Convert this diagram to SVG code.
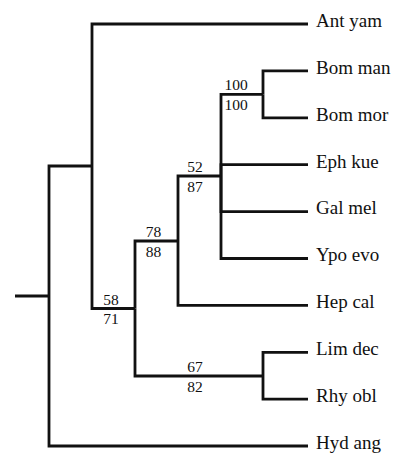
<svg xmlns="http://www.w3.org/2000/svg" width="393" height="454" viewBox="0 0 393 454">
<style>
.e{fill:none;stroke:#111;stroke-width:2.8;stroke-linejoin:miter;stroke-linecap:butt}
.leaf{font-family:'Liberation Serif','DejaVu Serif',serif;font-size:19px;fill:#111}
.bs{font-family:'Liberation Serif','DejaVu Serif',serif;font-size:15.5px;fill:#111;text-anchor:middle}
</style>
<rect width="393" height="454" fill="#fff"/>
<g id="connectors">
<path class="e" d="M15,296 H49"/>
<path class="e" d="M92,166 H49 V296"/>
<path class="e" d="M308,446 H49 V296"/>
<path class="e" d="M308,24 H92 V166"/>
<path class="e" d="M135,308.5 H92 V166"/>
<path class="e" d="M178,241 H135 V308.5"/>
<path class="e" d="M263,376 H135 V308.5"/>
<path class="e" d="M308,352.3 H263 V376"/>
<path class="e" d="M308,399.2 H263 V376"/>
<path class="e" d="M221,176 H178 V241"/>
<path class="e" d="M308,305.4 H178 V241"/>
<path class="e" d="M263,94.4 H221 V176"/>
<path class="e" d="M308,164.7 H221 V176"/>
<path class="e" d="M308,211.6 H221 V176"/>
<path class="e" d="M308,258.5 H221 V176"/>
<path class="e" d="M308,70.9 H263 V94.4"/>
<path class="e" d="M308,117.8 H263 V94.4"/>
</g>
<g font-family="Liberation Serif, DejaVu Serif, serif" font-size="19">
<g id="leaf-ant-yam"><text class="leaf" x="316" y="26.8">Ant yam</text></g>
<g id="leaf-bom-man"><text class="leaf" x="316" y="73.7">Bom man</text></g>
<g id="leaf-bom-mor"><text class="leaf" x="316" y="120.6">Bom mor</text></g>
<g id="leaf-eph-kue"><text class="leaf" x="316" y="167.5">Eph kue</text></g>
<g id="leaf-gal-mel"><text class="leaf" x="316" y="214.4">Gal mel</text></g>
<g id="leaf-ypo-evo"><text class="leaf" x="316" y="261.3">Ypo evo</text></g>
<g id="leaf-hep-cal"><text class="leaf" x="316" y="308.2">Hep cal</text></g>
<g id="leaf-lim-dec"><text class="leaf" x="316" y="355.1">Lim dec</text></g>
<g id="leaf-rhy-obl"><text class="leaf" x="316" y="402">Rhy obl</text></g>
<g id="leaf-hyd-ang"><text class="leaf" x="316" y="448.8">Hyd ang</text></g>
</g>
<g font-family="Liberation Serif, DejaVu Serif, serif" font-size="15.5" text-anchor="middle">
<g id="node-100"><text class="bs" x="236" y="90">100</text><text class="bs" x="236" y="109.5">100</text></g>
<g id="node-52"><text class="bs" x="195" y="172">52</text><text class="bs" x="195" y="191.5">87</text></g>
<g id="node-78"><text class="bs" x="153.5" y="237">78</text><text class="bs" x="153.5" y="256.5">88</text></g>
<g id="node-58"><text class="bs" x="111" y="304.5">58</text><text class="bs" x="111" y="324">71</text></g>
<g id="node-67"><text class="bs" x="195" y="372">67</text><text class="bs" x="195" y="391.5">82</text></g>
</g>
</svg>
